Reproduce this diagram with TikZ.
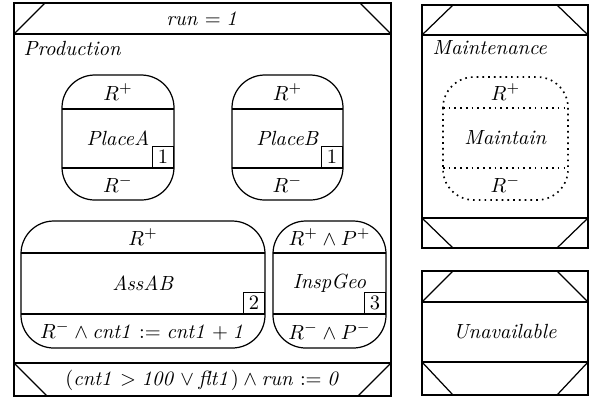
\documentclass[tikz,border=0pt]{standalone}
\begin{document}
\begin{tikzpicture}[x=0.4878pt,y=-0.4878pt,line width=0.6pt,
  lbl/.style={inner sep=0pt},
  num/.style={draw,line width=0.6pt,minimum size=10.2pt,inner sep=0pt,anchor=south east},
  statebox/.style={rounded corners=16pt},
  dotbox/.style={dotted,line width=0.8pt,rounded corners=15pt}]
\useasboundingbox (0,0) rectangle (590,398);
% Production super state
\draw (14,3) rectangle (391,396);
\draw (14,34) -- (391,34);
\draw (14,34) -- (45,3);
\draw (360,3) -- (391,34);
\draw (14,363) -- (391,363);
\draw (14,363) -- (47,396);
\draw (391,363) -- (358,396);
\node[lbl] (runtop) at (203,19) {$\mathit{run} = \mathit{1}$};
\node[lbl,anchor=west] (prod) at (23,48) {\textit{Production}};
\node[lbl] (runbot) at (203,380) {$(\mathit{cnt1} > \mathit{100} \vee \mathit{flt1}) \wedge \mathit{run} := \mathit{0}$};
% PlaceA
\draw[statebox] (62,75) rectangle (174,200);
\draw (62,109) -- (174,109);
\draw (62,168) -- (174,168);
\node[lbl] (paT) at (118,92) {$R^+$};
\node[lbl] (paM) at (118,138) {\textit{PlaceA}};
\node[lbl] (paB) at (118,184) {$R^-$};
\node[num] (paN) at (174,168) {1};
% PlaceB
\draw[statebox] (232,75) rectangle (343,200);
\draw (232,109) -- (343,109);
\draw (232,168) -- (343,168);
\node[lbl] (pbT) at (287.5,92) {$R^+$};
\node[lbl] (pbM) at (287.5,138) {\textit{PlaceB}};
\node[lbl] (pbB) at (287.5,184) {$R^-$};
\node[num] (pbN) at (343,168) {1};
% AssAB
\draw[statebox] (21,221) rectangle (265,348);
\draw (21,253) -- (265,253);
\draw (21,314) -- (265,314);
\node[lbl] (asT) at (143,237) {$R^+$};
\node[lbl] (asM) at (143,283) {\textit{AssAB}};
\node[lbl] (asB) at (143,331) {$R^- \wedge \mathit{cnt1} := \mathit{cnt1} + \mathit{1}$};
\node[num] (asN) at (265,314) {2};
% InspGeo
\draw[statebox] (273,221) rectangle (386,348);
\draw (273,253) -- (386,253);
\draw (273,314) -- (386,314);
\node[lbl] (igT) at (329.5,237) {$R^+ \wedge P^+$};
\node[lbl] (igM) at (329.5,283) {\textit{InspGeo}};
\node[lbl] (igB) at (329.5,331) {$R^- \wedge P^-$};
\node[num] (igN) at (386,314) {3};
% Maintenance
\draw (422,5) rectangle (588,248);
\draw (422,35) -- (588,35);
\draw (422,35) -- (453,5);
\draw (557,5) -- (588,35);
\draw (422,218) -- (588,218);
\draw (422,218) -- (453,248);
\draw (588,218) -- (557,248);
\node[lbl,anchor=west] (maint) at (432,48) {\textit{Maintenance}};
\draw[dotbox] (443,77) rectangle (568,200);
\draw[dotted,line width=0.8pt] (443,108) -- (568,108);
\draw[dotted,line width=0.8pt] (443,168) -- (568,168);
\node[lbl] (mT) at (505.5,92) {$R^+$};
\node[lbl] (mM) at (505.5,138) {\textit{Maintain}};
\node[lbl] (mB) at (505.5,184) {$R^-$};
% Unavailable
\draw (422,271) rectangle (588,395);
\draw (422,302) -- (588,302);
\draw (422,302) -- (453,271);
\draw (557,271) -- (588,302);
\draw (422,362) -- (588,362);
\draw (422,362) -- (453,395);
\draw (588,362) -- (557,395);
\node[lbl] (unav) at (505,332) {\textit{Unavailable}};
\end{tikzpicture}
\end{document}
